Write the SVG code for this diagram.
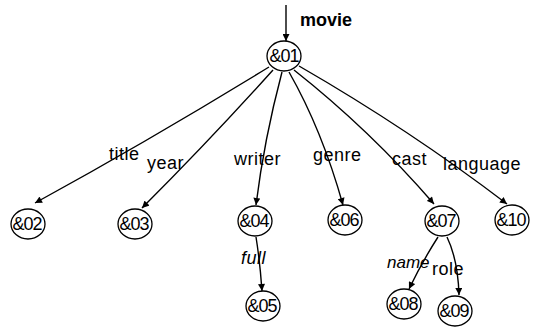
<svg xmlns="http://www.w3.org/2000/svg" width="536" height="332" viewBox="0 0 536 332">
<defs>
<marker id="ah" viewBox="0 0 10 10" refX="10" refY="5" markerWidth="8" markerHeight="7" orient="auto" markerUnits="userSpaceOnUse">
<path d="M0,0 L10,5 L0,10 z" fill="#000"/>
</marker>
</defs>
<style>
.n ellipse{fill:#fff;stroke:#000;stroke-width:1.3}
.n text{font-family:"Liberation Sans",Arial,sans-serif;font-size:18px;text-anchor:middle;letter-spacing:-1px;fill:#000}
.e path{fill:none;stroke:#000;stroke-width:1.4;marker-end:url(#ah)}
.l{font-family:"Liberation Sans",Arial,sans-serif;font-size:18px;letter-spacing:0.5px;fill:#000}
.i{font-style:italic}
</style>
<rect width="536" height="332" fill="#fff"/>
<g id="connectors" class="e">
<path d="M286,5 L286,41"/>
<path d="M269,67 Q150,140 35,203"/>
<path d="M273,70 Q210,140 142,208"/>
<path d="M282,72 Q264,140 256,205"/>
<path d="M289,72 Q322,130 343,205"/>
<path d="M294,70 Q370,130 434,204"/>
<path d="M299,66 Q410,130 507,204"/>
<path d="M256,237 Q260,262 262,291"/>
<path d="M438,237 Q422,262 409,289"/>
<path d="M447,237 Q458,260 459,295"/>
</g>
<g id="edge-labels">
<text class="l" x="300" y="26" style="font-weight:bold;letter-spacing:0">movie</text>
<text class="l" x="109" y="160">title</text>
<text class="l" x="147" y="169">year</text>
<text class="l" x="234" y="165">writer</text>
<text class="l" x="313" y="161">genre</text>
<text class="l" x="392" y="165">cast</text>
<text class="l" x="443" y="170">language</text>
<text class="l i" x="241" y="264">full</text>
<text class="l i" x="387" y="268" style="font-size:17px;letter-spacing:0">name</text>
<text class="l" x="432" y="275">role</text>
</g>
<g id="n01" class="n"><ellipse cx="284" cy="56" rx="17" ry="15"/><text x="284" y="62">&amp;01</text></g>
<g id="n02" class="n"><ellipse cx="28" cy="224" rx="17" ry="15"/><text x="27" y="230">&amp;02</text></g>
<g id="n03" class="n"><ellipse cx="135" cy="224" rx="17" ry="15"/><text x="134" y="230">&amp;03</text></g>
<g id="n04" class="n"><ellipse cx="255" cy="221" rx="17" ry="15"/><text x="254" y="227">&amp;04</text></g>
<g id="n06" class="n"><ellipse cx="345" cy="220" rx="17" ry="15"/><text x="344" y="226">&amp;06</text></g>
<g id="n07" class="n"><ellipse cx="442" cy="221" rx="17" ry="15"/><text x="441" y="227">&amp;07</text></g>
<g id="n10" class="n"><ellipse cx="512" cy="220" rx="17" ry="15"/><text x="511" y="226">&amp;10</text></g>
<g id="n05" class="n"><ellipse cx="263" cy="306" rx="17" ry="15"/><text x="262" y="312">&amp;05</text></g>
<g id="n08" class="n"><ellipse cx="404" cy="304" rx="17" ry="15"/><text x="403" y="310">&amp;08</text></g>
<g id="n09" class="n"><ellipse cx="455" cy="311" rx="17" ry="15"/><text x="454" y="317">&amp;09</text></g>
</svg>
